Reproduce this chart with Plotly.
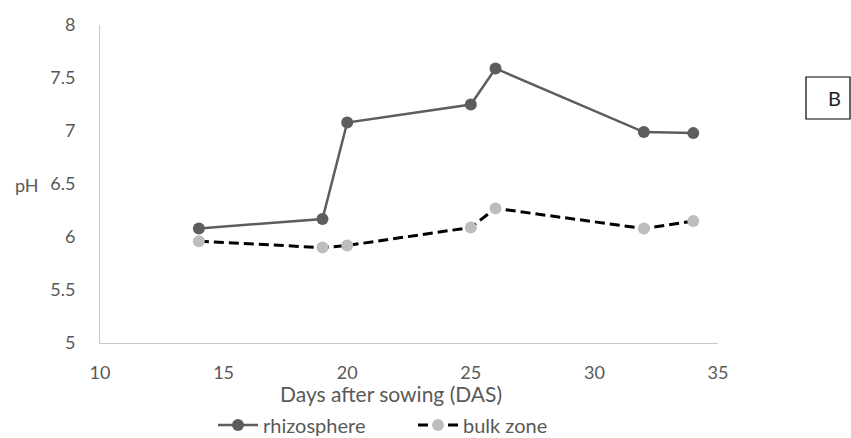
import plotly.graph_objects as go

days_rhizo = [14, 19, 20, 25, 26, 32, 34]
ph_rhizo = [6.08, 6.17, 7.08, 7.25, 7.59, 6.99, 6.98]
days_bulk = [14, 19, 20, 25, 26, 32, 34]
ph_bulk = [5.96, 5.90, 5.92, 6.09, 6.27, 6.08, 6.15]

x_ticks = [10, 15, 20, 25, 30, 35]
y_ticks = [5, 5.5, 6, 6.5, 7, 7.5, 8]

FONT = "Lato, Open Sans, sans-serif"
GRAY = "#595959"

W, H = 851, 438
L, R, T, B = 100, 133, 25, 95
PW, PH = W - L - R, H - T - B

def px_x(p):
    return (p - L) / PW

def px_y(p):
    return (H - B - p) / PH

fig = go.Figure()
fig.add_trace(go.Scatter(
    x=days_rhizo, y=ph_rhizo, name="rhizosphere", mode="lines+markers",
    line=dict(color="#5d5d5d", width=2.5),
    marker=dict(color="#5d5d5d", size=12),
))
fig.add_trace(go.Scatter(
    x=days_bulk, y=ph_bulk, name="bulk zone", mode="lines+markers",
    line=dict(color="#000000", width=3, dash="10px,5px"),
    marker=dict(color="#bdbdbd", size=12),
))

fig.update_layout(
    width=W, height=H,
    margin=dict(l=L, r=R, t=T, b=B, autoexpand=False),
    paper_bgcolor="white", plot_bgcolor="white",
    font=dict(family=FONT, color=GRAY, size=18),
    showlegend=True,
    legend=dict(orientation="h", x=px_x(213), xanchor="left", y=px_y(425), yanchor="middle",
                font=dict(size=20, color=GRAY), itemwidth=40,
                entrywidth=145, entrywidthmode="pixels"),
    xaxis=dict(range=[10, 35], tickvals=x_ticks, showgrid=False, zeroline=False,
               showline=True, linecolor="#c8c8c8", linewidth=1, ticks="",
               ticklabelstandoff=13, tickfont=dict(size=18, color=GRAY), automargin=False),
    yaxis=dict(range=[5, 8], tickvals=y_ticks, ticktext=[str(v) for v in y_ticks],
               showgrid=False, zeroline=False,
               showline=True, linecolor="#c8c8c8", linewidth=1, ticks="",
               ticklabelstandoff=20, tickfont=dict(size=18, color=GRAY), automargin=False),
)

fig.add_annotation(text="Days after sowing (DAS)", xref="paper", yref="paper",
                   x=px_x(391), y=px_y(393), xanchor="center", yanchor="middle",
                   showarrow=False, font=dict(size=21, color=GRAY, family=FONT))

fig.add_annotation(text="pH", xref="paper", yref="paper", x=px_x(27), y=px_y(185),
                   xanchor="center", yanchor="middle", showarrow=False,
                   font=dict(size=18, color=GRAY, family=FONT))

fig.add_shape(type="rect", xref="paper", yref="paper",
              x0=px_x(806), x1=px_x(850), y0=px_y(119), y1=px_y(77),
              line=dict(color="#000000", width=1.2), fillcolor="white")
fig.add_annotation(text="B", xref="paper", yref="paper",
                   x=px_x(834), y=px_y(98), xanchor="center", yanchor="middle",
                   showarrow=False, font=dict(size=20, color="#222222", family=FONT))

fig.write_html("out.html")
